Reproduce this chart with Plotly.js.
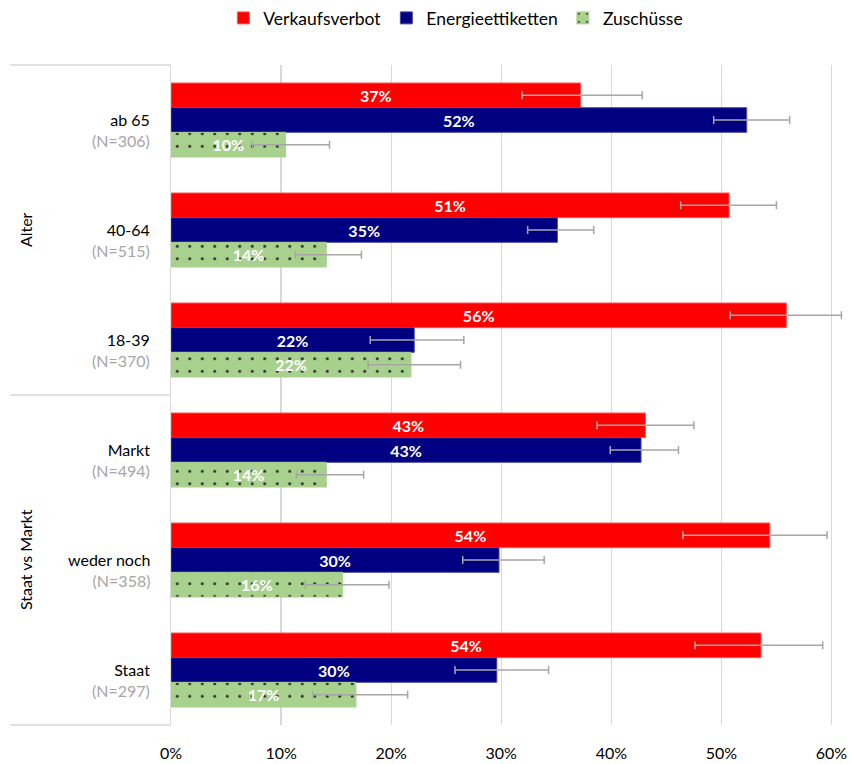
<!DOCTYPE html>
<html>
<head>
<meta charset="utf-8">
<script src="https://cdn.plot.ly/plotly-3.0.1.min.js"></script>
<style>
  html, body { margin: 0; padding: 0; background: #fff; }
  #chart { width: 852px; height: 764px; }
</style>
</head>
<body>
<div id="chart"></div>
<script>
const categories = ['ab 65', '40-64', '18-39', 'Markt', 'weder noch', 'Staat'];
const nLabels = ['(N=306)', '(N=515)', '(N=370)', '(N=494)', '(N=358)', '(N=297)'];
const groupLabels = ['Alter', 'Staat vs Markt'];
const seriesNames = ['Verkaufsverbot', 'Energieettiketten', 'Zuschüsse'];

const verkauf   = [37.2, 50.7, 55.9, 43.1, 54.4, 53.6];
const verkaufLo = [31.9, 46.3, 50.8, 38.7, 46.5, 47.6];
const verkaufHi = [42.8, 55.0, 60.9, 47.5, 59.6, 59.2];

const energie   = [52.3, 35.1, 22.1, 42.7, 29.8, 29.6];
const energieLo = [49.3, 32.4, 18.1, 39.9, 26.5, 25.8];
const energieHi = [56.2, 38.4, 26.6, 46.1, 33.9, 34.3];

const zusch   = [10.4, 14.1, 21.8, 14.1, 15.6, 16.8];
const zuschLo = [7.4, 11.3, 17.9, 11.4, 12.2, 12.9];
const zuschHi = [14.4, 17.3, 26.3, 17.5, 19.8, 21.5];

const xTicks = [0, 10, 20, 30, 40, 50, 60];
const xTickText = ['0%', '10%', '20%', '30%', '40%', '50%', '60%'];

const FONT = 'Lato, Carlito, "Liberation Sans", sans-serif';
const ERR_COLOR = '#a6a6a6';

function makeTrace(name, vals, lo, hi, color, lineColor, extra) {
  const t = {
    type: 'bar',
    orientation: 'h',
    name: name,
    y: categories,
    x: vals,
    texttemplate: '<b>%{x:.0f}%</b>',
    textposition: 'inside',
    insidetextanchor: 'middle',
    constraintext: 'none',
    textfont: { color: '#ffffff', size: 16, family: FONT },
    marker: { color: color, line: { width: 1, color: lineColor } },
    error_x: {
      type: 'data',
      symmetric: false,
      array: vals.map((v, i) => hi[i] - v),
      arrayminus: vals.map((v, i) => v - lo[i]),
      color: ERR_COLOR,
      thickness: 1.5,
      width: 4
    },
    hoverinfo: 'skip'
  };
  if (extra) Object.assign(t.marker, extra);
  return t;
}

const traces = [
  makeTrace(seriesNames[0], verkauf, verkaufLo, verkaufHi, '#ff0000', '#ff5a5a'),
  makeTrace(seriesNames[1], energie, energieLo, energieHi, '#000080', '#4b4ba6'),
  makeTrace(seriesNames[2], zusch, zuschLo, zuschHi, '#a9d18e', '#a9d18e', {
    pattern: { shape: '.', bgcolor: '#a9d18e', fgcolor: '#2b2b2b', size: 12.5, solidity: 0.045, fillmode: 'replace' }
  })
];

// plot area: x 171 -> 848.5 px, y 65 -> 725 px
const leftPx = 171, rightPx = 848.5;
const pw = rightPx - leftPx;
const toPaperX = px => (px - leftPx) / pw;

const annotations = [];
categories.forEach((c, i) => {
  annotations.push({
    xref: 'paper', yref: 'y',
    x: 0, y: c,
    xanchor: 'right', yanchor: 'middle',
    xshift: -19, yshift: -10,
    align: 'right',
    showarrow: false,
    text: c + '<br><span style="color:#a6a6a6">' + nLabels[i] + '</span>',
    font: { size: 16, color: '#000000', family: FONT }
  });
});
groupLabels.forEach((g, i) => {
  annotations.push({
    xref: 'paper', yref: 'paper',
    x: toPaperX(25), y: i === 0 ? 0.75 : 0.25,
    xanchor: 'center', yanchor: 'middle',
    textangle: -90,
    showarrow: false,
    text: g,
    font: { size: 16, color: '#000000', family: FONT }
  });
});

const lineStyle = { color: '#d9d9d9', width: 1.3 };
const shapes = [0, 0.5, 1].map(yv => ({
  type: 'line', xref: 'paper', yref: 'paper',
  x0: toPaperX(10), x1: 0, y0: yv, y1: yv,
  line: lineStyle
}));

const layout = {
  width: 852,
  height: 764,
  margin: { l: leftPx, r: 852 - rightPx, t: 65, b: 39, pad: 0 },
  paper_bgcolor: '#ffffff',
  plot_bgcolor: '#ffffff',
  font: { family: FONT, size: 16, color: '#000000' },
  barmode: 'group',
  bargap: 0.327,
  bargroupgap: 0,
  showlegend: true,
  legend: {
    orientation: 'h',
    xref: 'container', yref: 'container',
    x: 0.535, xanchor: 'center',
    y: 1.0, yanchor: 'top',
    font: { size: 17.5, color: '#000000', family: FONT },
    traceorder: 'normal',
    itemclick: false, itemdoubleclick: false
  },
  xaxis: {
    range: [0, 61.5],
    tickvals: xTicks,
    ticktext: xTickText,
    showgrid: true,
    gridcolor: '#d9d9d9',
    gridwidth: 1.3,
    zeroline: false,
    showline: false,
    ticks: 'outside',
    ticklen: 14,
    tickcolor: 'rgba(0,0,0,0)',
    tickfont: { size: 16, color: '#000000', family: FONT },
    automargin: false,
    fixedrange: true
  },
  yaxis: {
    type: 'category',
    categoryorder: 'array',
    categoryarray: categories,
    autorange: 'reversed',
    showticklabels: false,
    showgrid: false,
    zeroline: false,
    showline: true,
    linecolor: '#d9d9d9',
    linewidth: 1.3,
    ticks: '',
    automargin: false,
    fixedrange: true
  },
  annotations: annotations,
  shapes: shapes
};

Plotly.newPlot('chart', traces, layout, { displayModeBar: false, staticPlot: true });
</script>
</body>
</html>
